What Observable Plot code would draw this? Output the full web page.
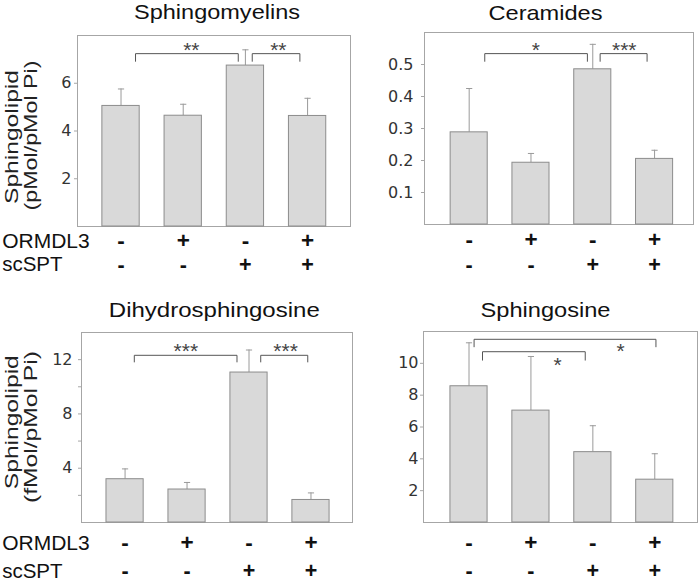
<!DOCTYPE html>
<html><head><meta charset="utf-8">
<script src="https://cdn.jsdelivr.net/npm/d3@7"></script>
<script src="https://cdn.jsdelivr.net/npm/@observablehq/plot@0.6"></script>
<style>
html,body{margin:0;padding:0;background:#fff;}
#chart{position:relative;width:700px;height:583px;overflow:hidden;background:#fff;}
#chart svg{position:absolute;left:0;top:0;}
</style></head><body><div id="chart"></div>
<script>
// ---- data ----
const groups = [1, 2, 3, 4];
const ormdl3 = ["-", "+", "-", "+"];
const scspt = ["-", "-", "+", "+"];
const rowLabels = ["ORMDL3", "scSPT"];

const titles = ["Sphingomyelins", "Ceramides", "Dihydrosphingosine", "Sphingosine"];
const yLabelTop = "Sphingolipid";
const yLabelUnits = ["(pMol/pMol Pi)", "", "(fMol/pMol Pi)", ""];

const smMean = [5.05, 4.64, 6.74, 4.63];
const smErr  = [0.71, 0.48, 0.66, 0.74];
const cerMean = [0.288, 0.193, 0.485, 0.205];
const cerErr  = [0.137, 0.029, 0.078, 0.027];
const dhsMean = [3.19, 2.43, 11.05, 1.66];
const dhsErr  = [0.76, 0.52, 1.66, 0.52];
const sphMean = [8.56, 7.03, 4.42, 2.69];
const sphErr  = [2.73, 3.40, 1.66, 1.63];

const smTicks = [2, 4, 6];
const cerTicks = [0.1, 0.2, 0.3, 0.4, 0.5];
const dhsTicks = [2, 4, 6, 8, 10, 12];
const dhsTickLabels = [4, 8, 12];
const sphTicks = [2, 4, 6, 8, 10];

// significance brackets: from/to (group position), top & leg (y value), label position
const smBrackets = [
  {from: 1.233, to: 2.885, top: 7.24, leg: 6.92, lx: 2.13, ly: 7.72, label: "**"},
  {from: 3.110, to: 3.876, top: 7.24, leg: 6.92, lx: 3.53, ly: 7.72, label: "**"}
];
const cerBrackets = [
  {from: 1.252, to: 2.913, top: 0.534, leg: 0.510, lx: 2.08, ly: 0.570, label: "*"},
  {from: 3.119, to: 3.879, top: 0.534, leg: 0.510, lx: 3.51, ly: 0.570, label: "***"}
];
const dhsBrackets = [
  {from: 1.149, to: 2.806, top: 12.32, leg: 11.83, lx: 1.98, ly: 13.22, label: "***"},
  {from: 3.189, to: 3.948, top: 12.32, leg: 11.83, lx: 3.59, ly: 13.22, label: "***"}
];
const sphBrackets = [
  {from: 1.082, to: 4.019, top: 11.51, leg: 11.04, lx: 3.45, ly: 11.26, label: "*"},
  {from: 1.218, to: 2.877, top: 10.73, leg: 10.20, lx: 2.43, ly: 10.41, label: "*"}
];

// ---- layout / style ----
const panels = [
  {title: titles[0], units: yLabelUnits[0], mean: smMean, err: smErr, ticks: smTicks, fmt: d => d, brackets: smBrackets,
   m: {l: 77, t: 35, r: 350, b: 357}, xd: [0.30, 4.69], yd: [0, 8], pad: 3,
   tdx: 3, tdy: -23.5, rows: [14.7, 38.3], yl: [[-65.5, 6], [-46.5, 4.5]], ldx: -75.3},
  {title: titles[1], units: yLabelUnits[1], mean: cerMean, err: cerErr, ticks: cerTicks, fmt: d3.format(".1f"), brackets: cerBrackets,
   m: {l: 424, t: 32, r: 7, b: 359}, xd: [0.277, 4.63], yd: [0, 0.6], pad: 8,
   tdx: -13.5, tdy: -19.3, rows: [15.3, 41]},
  {title: titles[2], units: yLabelUnits[2], mean: dhsMean, err: dhsErr, ticks: dhsTicks, fmt: d => dhsTickLabels.includes(d) ? d : "", brackets: dhsBrackets,
   m: {l: 81, t: 332, r: 348, b: 61}, xd: [0.297, 4.67], yd: [0, 14], pad: 6,
   tdx: -2.7, tdy: -22.3, rows: [20.5, 49], yl: [[-69.5, -5.3], [-50, -0.5]], ldx: -79.3},
  {title: titles[3], units: yLabelUnits[3], mean: sphMean, err: sphErr, ticks: sphTicks, fmt: d => d, brackets: sphBrackets,
   m: {l: 423, t: 331, r: 3, b: 61}, xd: [0.265, 4.69], yd: [0, 12], pad: 2,
   tdx: -15, tdy: -21, rows: [20.5, 49]}
];
// rendered text widths of the (horizontally stretched) original lettering
const textWidths = {
  "Sphingomyelins": 166, "Ceramides": 114, "Dihydrosphingosine": 211, "Sphingosine": 130,
  "Sphingolipid": 134, "(pMol/pMol Pi)": 150, "(fMol/pMol Pi)": 152
};

const sans = "Liberation Sans, Arial, sans-serif";
const wide = "DejaVu Sans, sans-serif";
const chart = document.getElementById("chart");

for (const p of panels) {
  const data = groups.map((g, i) => ({g, v: p.mean[i], top: p.mean[i] + p.err[i], o: ormdl3[i], s: scspt[i]}));
  const bpts = p.brackets.flatMap((b, k) => [
    {id: k, x: b.from, y: b.leg}, {id: k, x: b.from, y: b.top},
    {id: k, x: b.to, y: b.top}, {id: k, x: b.to, y: b.leg}
  ]);
  const marks = [
    Plot.frame({stroke: "#a6a6a6"}),
    Plot.axisY({ticks: p.ticks, tickSize: 3, tickPadding: p.pad, tickFormat: p.fmt, label: null,
      stroke: "#a6a6a6", fill: "#333", fontFamily: wide, fontSize: 16}),
    Plot.ruleX(data, {x: "g", y1: "v", y2: "top", stroke: "#9a9a9a"}),
    Plot.link(data, {x1: d => d.g - 0.05, x2: d => d.g + 0.05, y1: "top", y2: "top", stroke: "#9a9a9a"}),
    Plot.rectY(data, {x1: d => d.g - 0.3, x2: d => d.g + 0.3, y: "v", fill: "#d9d9d9", stroke: "#8c8c8c"}),
    Plot.line(bpts, {x: "x", y: "y", z: "id", stroke: "#555", strokeWidth: 1}),
    Plot.text(p.brackets, {x: "lx", y: "ly", text: "label", lineAnchor: "top", fontFamily: sans, fontSize: 21, fill: "#444"}),
    Plot.text([p.title], {text: d => d, frameAnchor: "top", dx: p.tdx, dy: p.tdy, lineAnchor: "middle",
      fontFamily: sans, fontSize: 21, fill: "#111"}),
    Plot.text(data, {x: "g", text: "o", frameAnchor: "bottom", dy: p.rows[0], lineAnchor: "middle",
      fontFamily: sans, fontWeight: "bold", fontSize: 22.5, fill: "#111"}),
    Plot.text(data, {x: "g", text: "s", frameAnchor: "bottom", dy: p.rows[1], lineAnchor: "middle",
      fontFamily: sans, fontWeight: "bold", fontSize: 21.5, fill: "#111"})
  ];
  if (p.units) {
    marks.push(
      Plot.text([yLabelTop], {text: d => d, frameAnchor: "left", rotate: -90, dx: p.yl[0][0], dy: p.yl[0][1],
        lineAnchor: "middle", textAnchor: "middle", fontFamily: sans, fontSize: 18.5, fill: "#222"}),
      Plot.text([p.units], {text: d => d, frameAnchor: "left", rotate: -90, dx: p.yl[1][0], dy: p.yl[1][1],
        lineAnchor: "middle", textAnchor: "middle", fontFamily: sans, fontSize: 18.5, fill: "#222"}),
      Plot.text([rowLabels[0]], {text: d => d, frameAnchor: "bottom-left", dx: p.ldx, dy: p.rows[0],
        textAnchor: "start", lineAnchor: "middle", fontFamily: sans, fontSize: 21, fill: "#111"}),
      Plot.text([rowLabels[1]], {text: d => d, frameAnchor: "bottom-left", dx: p.ldx, dy: p.rows[1],
        textAnchor: "start", lineAnchor: "middle", fontFamily: sans, fontSize: 20.5, fill: "#111"})
    );
  }
  const svg = Plot.plot({
    width: 700, height: 583,
    marginLeft: p.m.l, marginTop: p.m.t, marginRight: p.m.r, marginBottom: p.m.b,
    x: {type: "linear", domain: p.xd, axis: null},
    y: {domain: p.yd, axis: null},
    style: {background: "transparent", fontFamily: sans, overflow: "visible"},
    marks
  });
  d3.select(svg).selectAll("text").each(function () {
    const w = textWidths[this.textContent];
    if (w) {
      this.setAttribute("textLength", w);
      this.setAttribute("lengthAdjust", "spacingAndGlyphs");
    }
  });
  chart.appendChild(svg);
}
</script></body></html>
